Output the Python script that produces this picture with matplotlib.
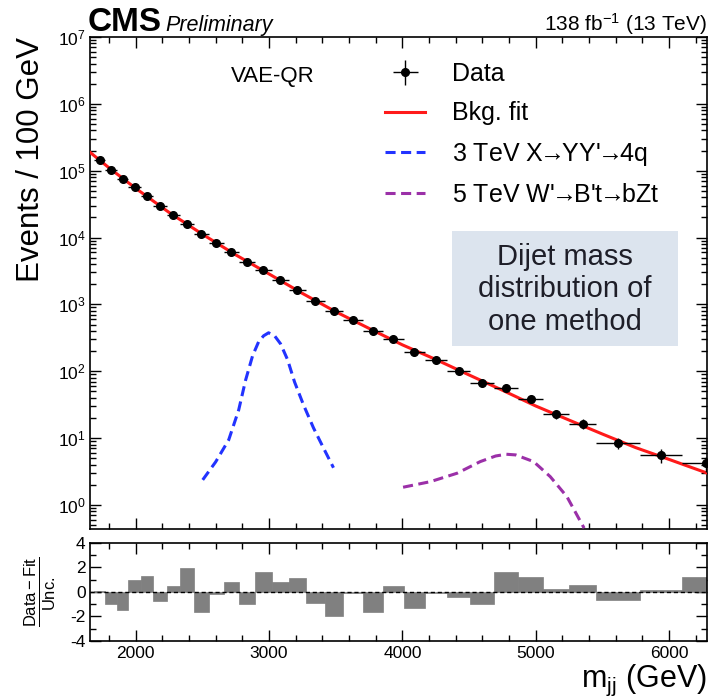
import numpy as np
import matplotlib

matplotlib.use("Agg")
from matplotlib import pyplot as plt
from matplotlib.patches import Rectangle
from matplotlib.ticker import LogLocator, MultipleLocator, NullFormatter

plt.rcParams["font.family"] = ["Liberation Sans", "DejaVu Sans"]
plt.rcParams["mathtext.fontset"] = "custom"
plt.rcParams["mathtext.rm"] = "Liberation Sans"
plt.rcParams["mathtext.it"] = "Liberation Sans:italic"
plt.rcParams["mathtext.bf"] = "Liberation Sans:bold"
plt.rcParams["axes.unicode_minus"] = False

# dijet mass bins (GeV)
bin_edges = [1687, 1770, 1856, 1945, 2037, 2132, 2231, 2332, 2438, 2546, 2659,
             2775, 2895, 3019, 3147, 3279, 3416, 3558, 3704, 3854, 4010, 4171,
             4337, 4509, 4686, 4869, 5058, 5253, 5455, 5780, 6099, 6460]

# events / 100 GeV
data_events = [146000, 103500, 75900, 56200, 41200, 29900, 21400, 16100, 11300,
               8270, 6070, 4240, 3220, 2280, 1655, 1133, 783, 588, 393, 302,
               195, 148, 99.7, 66.4, 57.0, 38.2, 23.0, 16.3, 8.57, 5.6, 4.2]

# (data - fit) / unc.
pulls = [0.05, -1.0, -1.45, 0.95, 1.28, -0.7, 0.52, 1.93, -1.66, -0.15, 0.8,
         -0.98, 1.6, 0.8, 1.15, -0.9, -1.95, -0.05, -1.65, 0.45, -1.31, -0.05,
         -0.44, -0.95, 1.6, 1.2, 0.25, 0.55, -0.68, 0.14, 1.23]

fit_mass = [1660, 1800, 2000, 2250, 2500, 2750, 3000, 3250, 3500, 3750, 4000,
            4250, 4500, 4750, 5000, 5250, 5500, 5750, 6000, 6285]
fit_events = [186000, 110000, 54300, 23700, 11200, 5500, 2850, 1460, 776, 437,
              248, 150, 88, 52, 30.2, 18.6, 11.5, 7.2, 4.8, 3.0]

xyy_mass = [2502, 2599, 2697, 2772, 2824, 2876, 2921, 2959, 2996, 3041, 3086,
            3139, 3191, 3258, 3333, 3408, 3483]
xyy_events = [2.37, 4.4, 9.4, 26.4, 74, 170, 275, 339, 376, 339, 257, 148, 69,
              31.4, 14.2, 7.1, 3.6]

wp_mass = [4005, 4210, 4410, 4584, 4700, 4780, 4850, 4984, 5109, 5234, 5363]
wp_events = [1.84, 2.23, 2.98, 4.45, 5.4, 5.73, 5.6, 4.45, 2.65, 1.33, 0.45]

x_range = (1660, 6285)

edges = np.array(bin_edges, dtype=float)
widths = np.diff(edges)
centers = edges[:-1] + widths / 2
values = np.array(data_events)
counts = values * widths / 100.0
yerr = values / np.sqrt(counts)

arrow = r"$\!\!\rightarrow\!\!$"

fig = plt.figure(figsize=(7.09, 6.99), dpi=100)
ax = fig.add_axes([0.1276, 0.2432, 0.8696, 0.7039])
rax = fig.add_axes([0.1276, 0.0830, 0.8696, 0.1402])

red = "#ff1a1a"
blue = "#2233ff"
purple = "#9b30a8"

ax.plot(fit_mass, fit_events, color=red, lw=2.2, zorder=3, label="Bkg. fit")
ax.plot(xyy_mass, xyy_events, color=blue, lw=2.2, ls=(0, (3.3, 1.8)),
        zorder=3, label=f"3 TeV X{arrow}YY'{arrow}4q")
ax.plot(wp_mass, wp_events, color=purple, lw=2.2, ls=(0, (3.3, 1.8)),
        zorder=3, label=f"5 TeV W'{arrow}B't{arrow}bZt")
ax.errorbar(centers, values, xerr=widths / 2, yerr=yerr, fmt="o", color="black",
            ms=5.5, lw=1.0, capsize=0, zorder=4, label="Data")

ax.add_patch(Rectangle((0.586, 0.371), 0.367, 0.235, transform=ax.transAxes,
                       facecolor="#dce4ee", edgecolor="none", zorder=1))
ax.text(0.770, 0.487, "Dijet mass\ndistribution of\none method",
        transform=ax.transAxes, ha="center", va="center", fontsize=21,
        linespacing=1.22, color="#1e1e28", zorder=2)
ax.text(0.296, 0.920, "VAE-QR", transform=ax.transAxes, ha="center",
        va="center", fontsize=16)

handles, labels = ax.get_legend_handles_labels()
order = [3, 0, 1, 2]
ax.legend([handles[i] for i in order], [labels[i] for i in order],
          loc="upper left", bbox_to_anchor=(0.478, 0.949), frameon=False,
          fontsize=18, borderpad=0, borderaxespad=0, handlelength=1.6,
          handletextpad=1.08, labelspacing=0.61)

ax.set_yscale("log")
ax.set_ylim(10 ** -0.36, 1e7)
ax.set_xlim(*x_range)
ax.yaxis.set_major_locator(LogLocator(base=10, numticks=20))
ax.yaxis.set_minor_locator(LogLocator(base=10, subs=np.arange(2, 10), numticks=20))
ax.yaxis.set_minor_formatter(NullFormatter())
ax.set_ylabel("Events / 100 GeV", fontsize=22.5, loc="top")
ax.yaxis.set_label_coords(-0.072, 1.0)

rax.bar(edges[:-1], pulls, width=widths, align="edge", color="#808080",
        edgecolor="#808080", lw=0.5, zorder=2)
rax.axhline(0, color="black", lw=1.0, ls=(0, (3, 2)), zorder=3)
rax.set_xlim(*x_range)
rax.set_ylim(-4, 4)
rax.set_yticks([-4, -2, 0, 2, 4])
rax.yaxis.set_minor_locator(MultipleLocator(1))
rax.set_ylabel(r"$\frac{\mathrm{Data-Fit}}{\mathrm{Unc.}}$", fontsize=17)
rax.yaxis.set_label_coords(-0.053, 0.5)
rax.set_xlabel(r"m$_{\mathrm{jj}}$ (GeV)", fontsize=22, loc="right")
rax.xaxis.set_label_coords(1.0, -0.22)

for a in (ax, rax):
    a.xaxis.set_major_locator(MultipleLocator(1000))
    a.xaxis.set_minor_locator(MultipleLocator(200))
    a.tick_params(which="both", direction="in", top=True, right=True,
                  labelsize=12.5, width=1.0)
    a.tick_params(which="major", length=8)
    a.tick_params(which="minor", length=4)
    for s in a.spines.values():
        s.set_linewidth(1.2)
ax.tick_params(labelbottom=False)

fig.text(0.124, 0.9557, "CMS", fontweight="bold", fontsize=24, va="baseline")
fig.text(0.2327, 0.9557, "Preliminary", fontstyle="italic", fontsize=15.5,
         va="baseline")
fig.text(0.997, 0.9557, r"138 fb$^{-1}$ (13 TeV)", ha="right", va="baseline",
         fontsize=15)

fig.savefig("out.png", dpi=100)
